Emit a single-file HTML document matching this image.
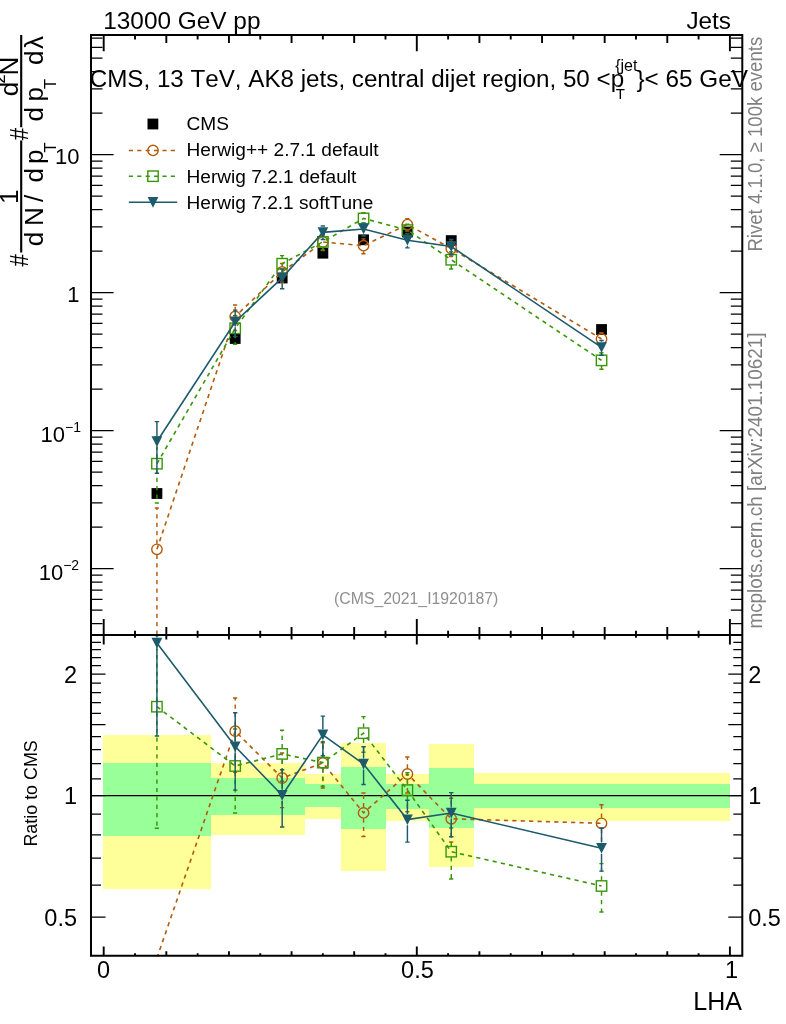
<!DOCTYPE html>
<html lang="en"><head><meta charset="utf-8"><title>CMS 13 TeV AK8 jets LHA</title>
<style>html,body{margin:0;padding:0;background:#fff}body{width:786px;height:1024px;overflow:hidden}svg{display:block}text{font-family:'Liberation Sans', Arial, Helvetica, sans-serif;font-kerning:none}</style>
</head><body>
<svg width="786" height="1024" viewBox="0 0 786 1024">
<rect x="0" y="0" width="786" height="1024" fill="#fff"/>
<g shape-rendering="crispEdges">
<rect x="103" y="734.5" width="107.9" height="154.3" fill="#ffff99"/>
<rect x="103" y="762.5" width="107.9" height="73.1" fill="#99ff99"/>
<rect x="210.9" y="762.5" width="49.1" height="72.8" fill="#ffff99"/>
<rect x="210.9" y="778" width="49.1" height="36.5" fill="#99ff99"/>
<rect x="260" y="763.3" width="44.7" height="71.5" fill="#ffff99"/>
<rect x="260" y="778" width="44.7" height="36.5" fill="#99ff99"/>
<rect x="304.7" y="774.3" width="36.2" height="44.3" fill="#ffff99"/>
<rect x="304.7" y="784.3" width="36.2" height="22.7" fill="#99ff99"/>
<rect x="340.9" y="743" width="44.9" height="127.5" fill="#ffff99"/>
<rect x="340.9" y="767" width="44.9" height="61.5" fill="#99ff99"/>
<rect x="385.8" y="773.5" width="43.5" height="47.2" fill="#ffff99"/>
<rect x="385.8" y="783.9" width="43.5" height="24.7" fill="#99ff99"/>
<rect x="429.3" y="744.2" width="44.5" height="123.2" fill="#ffff99"/>
<rect x="429.3" y="768.1" width="44.5" height="59.9" fill="#99ff99"/>
<rect x="473.8" y="773.2" width="256.2" height="47.8" fill="#ffff99"/>
<rect x="473.8" y="783.9" width="256.2" height="23.7" fill="#99ff99"/>
</g>
<line x1="91" y1="795.7" x2="742.3" y2="795.7" stroke="#000" stroke-width="1.3"/>
<defs>
<clipPath id="cm"><rect x="91" y="35" width="651.3" height="600"/></clipPath>
<clipPath id="cr"><rect x="91" y="635" width="651.3" height="320.7"/></clipPath>
</defs>
<g>
<rect x="151.53" y="488.1" width="10.8" height="10.8" fill="#000"/>
<rect x="229.8" y="333.1" width="10.8" height="10.8" fill="#000"/>
<rect x="276.77" y="272.6" width="10.8" height="10.8" fill="#000"/>
<rect x="317.47" y="247.8" width="10.8" height="10.8" fill="#000"/>
<rect x="358.17" y="234.4" width="10.8" height="10.8" fill="#000"/>
<rect x="402.01" y="226.6" width="10.8" height="10.8" fill="#000"/>
<rect x="445.84" y="235.2" width="10.8" height="10.8" fill="#000"/>
<rect x="596.13" y="324.1" width="10.8" height="10.8" fill="#000"/>
</g>
<g clip-path="url(#cm)">
<path d="M156.93 549.3 L235.2 316.45 L282.17 271.95 L322.87 242.02 L363.57 245.68 L407.41 224.58 L451.24 248.5 L601.53 338.94" fill="none" stroke="#b25a0a" stroke-width="1.6" stroke-dasharray="4.2 4.2"/>
<path d="M156.93 543.7 V508 M154.73 508 H159.13 M156.93 554.9 V700 M154.73 700 H159.13" fill="none" stroke="#b25a0a" stroke-width="1.45" stroke-dasharray="4.2 4.2"/>
<path d="M235.2 310.85 V305.06 M233 305.06 H237.4 M235.2 322.05 V330.51 M233 330.51 H237.4" fill="none" stroke="#b25a0a" stroke-width="1.45" stroke-dasharray="4.2 4.2"/>
<path d="M282.17 266.35 V263.4 M279.97 263.4 H284.37 M282.17 277.55 V282.07 M279.97 282.07 H284.37" fill="none" stroke="#b25a0a" stroke-width="1.45" stroke-dasharray="4.2 4.2"/>
<path d="M322.87 236.42 V235.11 M320.67 235.11 H325.07 M322.87 247.62 V250.57 M320.67 250.57 H325.07" fill="none" stroke="#b25a0a" stroke-width="1.45" stroke-dasharray="4.2 4.2"/>
<path d="M363.57 240.08 V238.88 M361.37 238.88 H365.77 M363.57 251.28 V253.75 M361.37 253.75 H365.77" fill="none" stroke="#b25a0a" stroke-width="1.45" stroke-dasharray="4.2 4.2"/>
<path d="M407.41 218.98 V218.73 M405.21 218.73 H409.61 M407.41 230.18 V231.06 M405.21 231.06 H409.61" fill="none" stroke="#b25a0a" stroke-width="1.45" stroke-dasharray="4.2 4.2"/>
<path d="M451.24 242.9 V241.49 M449.04 241.49 H453.44 M451.24 254.1 V256.43 M449.04 256.43 H453.44" fill="none" stroke="#b25a0a" stroke-width="1.45" stroke-dasharray="4.2 4.2"/>
<path d="M601.53 333.34 V332.61 M599.33 332.61 H603.73 M601.53 344.54 V346.01 M599.33 346.01 H603.73" fill="none" stroke="#b25a0a" stroke-width="1.45" stroke-dasharray="4.2 4.2"/>
<circle cx="156.93" cy="549.3" r="5.2" fill="none" stroke="#b25a0a" stroke-width="1.4"/>
<circle cx="235.2" cy="316.45" r="5.2" fill="none" stroke="#b25a0a" stroke-width="1.4"/>
<circle cx="282.17" cy="271.95" r="5.2" fill="none" stroke="#b25a0a" stroke-width="1.4"/>
<circle cx="322.87" cy="242.02" r="5.2" fill="none" stroke="#b25a0a" stroke-width="1.4"/>
<circle cx="363.57" cy="245.68" r="5.2" fill="none" stroke="#b25a0a" stroke-width="1.4"/>
<circle cx="407.41" cy="224.58" r="5.2" fill="none" stroke="#b25a0a" stroke-width="1.4"/>
<circle cx="451.24" cy="248.5" r="5.2" fill="none" stroke="#b25a0a" stroke-width="1.4"/>
<circle cx="601.53" cy="338.94" r="5.2" fill="none" stroke="#b25a0a" stroke-width="1.4"/>
</g>
<g clip-path="url(#cm)">
<path d="M156.93 463.7 L235.2 328.34 L282.17 263.71 L322.87 241.88 L363.57 218.43 L407.41 230.09 L451.24 259.75 L601.53 360.38" fill="none" stroke="#389608" stroke-width="1.6" stroke-dasharray="4.2 4.2"/>
<path d="M156.93 458.1 V437 M154.73 437 H159.13 M156.93 469.3 V503 M154.73 503 H159.13" fill="none" stroke="#389608" stroke-width="1.45" stroke-dasharray="4.2 4.2"/>
<path d="M235.2 322.74 V315.71 M233 315.71 H237.4 M235.2 333.94 V344.38 M233 344.38 H237.4" fill="none" stroke="#389608" stroke-width="1.45" stroke-dasharray="4.2 4.2"/>
<path d="M282.17 258.11 V255.6 M279.97 255.6 H284.37 M282.17 269.31 V273.08 M279.97 273.08 H284.37" fill="none" stroke="#389608" stroke-width="1.45" stroke-dasharray="4.2 4.2"/>
<path d="M322.87 236.28 V234.75 M320.67 234.75 H325.07 M322.87 247.48 V249.99 M320.67 249.99 H325.07" fill="none" stroke="#389608" stroke-width="1.45" stroke-dasharray="4.2 4.2"/>
<path d="M363.57 212.83 V212.75 M361.37 212.75 H365.77 M363.57 224.03 V224.96 M361.37 224.96 H365.77" fill="none" stroke="#389608" stroke-width="1.45" stroke-dasharray="4.2 4.2"/>
<path d="M407.41 224.49 V224.17 M405.21 224.17 H409.61 M407.41 235.69 V237.47 M405.21 237.47 H409.61" fill="none" stroke="#389608" stroke-width="1.45" stroke-dasharray="4.2 4.2"/>
<path d="M451.24 254.15 V251.67 M449.04 251.67 H453.44 M451.24 265.35 V269.08 M449.04 269.08 H453.44" fill="none" stroke="#389608" stroke-width="1.45" stroke-dasharray="4.2 4.2"/>
<path d="M601.53 354.78 V352.72 M599.33 352.72 H603.73 M601.53 365.98 V369.27 M599.33 369.27 H603.73" fill="none" stroke="#389608" stroke-width="1.45" stroke-dasharray="4.2 4.2"/>
<rect x="151.73" y="458.5" width="10.4" height="10.4" fill="none" stroke="#389608" stroke-width="1.4"/>
<rect x="230" y="323.14" width="10.4" height="10.4" fill="none" stroke="#389608" stroke-width="1.4"/>
<rect x="276.97" y="258.51" width="10.4" height="10.4" fill="none" stroke="#389608" stroke-width="1.4"/>
<rect x="317.67" y="236.68" width="10.4" height="10.4" fill="none" stroke="#389608" stroke-width="1.4"/>
<rect x="358.37" y="213.23" width="10.4" height="10.4" fill="none" stroke="#389608" stroke-width="1.4"/>
<rect x="402.21" y="224.89" width="10.4" height="10.4" fill="none" stroke="#389608" stroke-width="1.4"/>
<rect x="446.04" y="254.55" width="10.4" height="10.4" fill="none" stroke="#389608" stroke-width="1.4"/>
<rect x="596.33" y="355.18" width="10.4" height="10.4" fill="none" stroke="#389608" stroke-width="1.4"/>
</g>
<g clip-path="url(#cm)">
<path d="M156.93 441.5 L235.2 321.71 L282.17 277.86 L322.87 232.38 L363.57 228.96 L407.41 240.17 L451.24 246.52 L601.53 347.45" fill="none" stroke="#1c5a6c" stroke-width="1.6"/>
<path d="M156.93 435.9 V421.6 M154.73 421.6 H159.13 M156.93 447.1 V473.2 M154.73 473.2 H159.13" fill="none" stroke="#1c5a6c" stroke-width="1.45"/>
<path d="M235.2 316.11 V310.12 M233 310.12 H237.4 M235.2 327.31 V336.59 M233 336.59 H237.4" fill="none" stroke="#1c5a6c" stroke-width="1.45"/>
<path d="M282.17 272.26 V269.11 M279.97 269.11 H284.37 M282.17 283.46 V288.7 M279.97 288.7 H284.37" fill="none" stroke="#1c5a6c" stroke-width="1.45"/>
<path d="M322.87 226.78 V225.98 M320.67 225.98 H325.07 M322.87 237.98 V239.54 M320.67 239.54 H325.07" fill="none" stroke="#1c5a6c" stroke-width="1.45"/>
<path d="M363.57 223.36 V223.08 M361.37 223.08 H365.77 M363.57 234.56 V235.94 M361.37 235.94 H365.77" fill="none" stroke="#1c5a6c" stroke-width="1.45"/>
<path d="M407.41 234.57 V233.54 M405.21 233.54 H409.61 M407.41 245.77 V247.87 M405.21 247.87 H409.61" fill="none" stroke="#1c5a6c" stroke-width="1.45"/>
<path d="M451.24 240.92 V239.54 M449.04 239.54 H453.44 M451.24 252.12 V254.65 M449.04 254.65 H453.44" fill="none" stroke="#1c5a6c" stroke-width="1.45"/>
<path d="M601.53 341.85 V340.53 M599.33 340.53 H603.73 M601.53 353.05 V355.28 M599.33 355.28 H603.73" fill="none" stroke="#1c5a6c" stroke-width="1.45"/>
<path d="M151.53 436.3 L162.33 436.3 L156.93 446.9 Z" fill="#1c5a6c"/>
<path d="M229.8 316.51 L240.6 316.51 L235.2 327.11 Z" fill="#1c5a6c"/>
<path d="M276.77 272.66 L287.57 272.66 L282.17 283.26 Z" fill="#1c5a6c"/>
<path d="M317.47 227.18 L328.27 227.18 L322.87 237.78 Z" fill="#1c5a6c"/>
<path d="M358.17 223.76 L368.97 223.76 L363.57 234.36 Z" fill="#1c5a6c"/>
<path d="M402.01 234.97 L412.81 234.97 L407.41 245.57 Z" fill="#1c5a6c"/>
<path d="M445.84 241.32 L456.64 241.32 L451.24 251.92 Z" fill="#1c5a6c"/>
<path d="M596.13 342.25 L606.93 342.25 L601.53 352.85 Z" fill="#1c5a6c"/>
</g>
<g clip-path="url(#cr)">
<path d="M156.93 958 L235.2 731.2 L282.17 778 L322.87 763 L363.57 812.9 L407.41 774 L451.24 818.8 L601.53 823.3" fill="none" stroke="#b25a0a" stroke-width="1.6" stroke-dasharray="4.2 4.2"/>
<path d="M235.2 725.6 V697.9 M233 697.9 H237.4 M235.2 736.8 V772.35 M233 772.35 H237.4" fill="none" stroke="#b25a0a" stroke-width="1.45" stroke-dasharray="4.2 4.2"/>
<path d="M282.17 772.4 V753 M279.97 753 H284.37 M282.17 783.6 V807.6 M279.97 807.6 H284.37" fill="none" stroke="#b25a0a" stroke-width="1.45" stroke-dasharray="4.2 4.2"/>
<path d="M322.87 757.4 V742.8 M320.67 742.8 H325.07 M322.87 768.6 V788 M320.67 788 H325.07" fill="none" stroke="#b25a0a" stroke-width="1.45" stroke-dasharray="4.2 4.2"/>
<path d="M363.57 807.3 V793 M361.37 793 H365.77 M363.57 818.5 V836.5 M361.37 836.5 H365.77" fill="none" stroke="#b25a0a" stroke-width="1.45" stroke-dasharray="4.2 4.2"/>
<path d="M407.41 768.4 V756.9 M405.21 756.9 H409.61 M407.41 779.6 V792.95 M405.21 792.95 H409.61" fill="none" stroke="#b25a0a" stroke-width="1.45" stroke-dasharray="4.2 4.2"/>
<path d="M451.24 813.2 V798.31 M449.04 798.31 H453.44 M451.24 824.4 V842 M449.04 842 H453.44" fill="none" stroke="#b25a0a" stroke-width="1.45" stroke-dasharray="4.2 4.2"/>
<path d="M601.53 817.7 V804.8 M599.33 804.8 H603.73 M601.53 828.9 V843.99 M599.33 843.99 H603.73" fill="none" stroke="#b25a0a" stroke-width="1.45" stroke-dasharray="4.2 4.2"/>
<circle cx="235.2" cy="731.2" r="5.2" fill="none" stroke="#b25a0a" stroke-width="1.4"/>
<circle cx="282.17" cy="778" r="5.2" fill="none" stroke="#b25a0a" stroke-width="1.4"/>
<circle cx="322.87" cy="763" r="5.2" fill="none" stroke="#b25a0a" stroke-width="1.4"/>
<circle cx="363.57" cy="812.9" r="5.2" fill="none" stroke="#b25a0a" stroke-width="1.4"/>
<circle cx="407.41" cy="774" r="5.2" fill="none" stroke="#b25a0a" stroke-width="1.4"/>
<circle cx="451.24" cy="818.8" r="5.2" fill="none" stroke="#b25a0a" stroke-width="1.4"/>
<circle cx="601.53" cy="823.3" r="5.2" fill="none" stroke="#b25a0a" stroke-width="1.4"/>
</g>
<g clip-path="url(#cr)">
<path d="M156.93 706.7 L235.2 766 L282.17 753.9 L322.87 762.6 L363.57 733.2 L407.41 790.1 L451.24 851.7 L601.53 886" fill="none" stroke="#389608" stroke-width="1.6" stroke-dasharray="4.2 4.2"/>
<path d="M156.93 701.1 V635.63 M154.73 635.63 H159.13 M156.93 712.3 V828.2 M154.73 828.2 H159.13" fill="none" stroke="#389608" stroke-width="1.45" stroke-dasharray="4.2 4.2"/>
<path d="M235.2 760.4 V729.04 M233 729.04 H237.4 M235.2 771.6 V812.9 M233 812.9 H237.4" fill="none" stroke="#389608" stroke-width="1.45" stroke-dasharray="4.2 4.2"/>
<path d="M282.17 748.3 V730.2 M279.97 730.2 H284.37 M282.17 759.5 V781.31 M279.97 781.31 H284.37" fill="none" stroke="#389608" stroke-width="1.45" stroke-dasharray="4.2 4.2"/>
<path d="M322.87 757 V741.73 M320.67 741.73 H325.07 M322.87 768.2 V786.3 M320.67 786.3 H325.07" fill="none" stroke="#389608" stroke-width="1.45" stroke-dasharray="4.2 4.2"/>
<path d="M363.57 727.6 V716.6 M361.37 716.6 H365.77 M363.57 738.8 V752.3 M361.37 752.3 H365.77" fill="none" stroke="#389608" stroke-width="1.45" stroke-dasharray="4.2 4.2"/>
<path d="M407.41 784.5 V772.8 M405.21 772.8 H409.61 M407.41 795.7 V811.7 M405.21 811.7 H409.61" fill="none" stroke="#389608" stroke-width="1.45" stroke-dasharray="4.2 4.2"/>
<path d="M451.24 846.1 V828.08 M449.04 828.08 H453.44 M451.24 857.3 V879 M449.04 879 H453.44" fill="none" stroke="#389608" stroke-width="1.45" stroke-dasharray="4.2 4.2"/>
<path d="M601.53 880.4 V863.6 M599.33 863.6 H603.73 M601.53 891.6 V912 M599.33 912 H603.73" fill="none" stroke="#389608" stroke-width="1.45" stroke-dasharray="4.2 4.2"/>
<rect x="151.73" y="701.5" width="10.4" height="10.4" fill="none" stroke="#389608" stroke-width="1.4"/>
<rect x="230" y="760.8" width="10.4" height="10.4" fill="none" stroke="#389608" stroke-width="1.4"/>
<rect x="276.97" y="748.7" width="10.4" height="10.4" fill="none" stroke="#389608" stroke-width="1.4"/>
<rect x="317.67" y="757.4" width="10.4" height="10.4" fill="none" stroke="#389608" stroke-width="1.4"/>
<rect x="358.37" y="728" width="10.4" height="10.4" fill="none" stroke="#389608" stroke-width="1.4"/>
<rect x="402.21" y="784.9" width="10.4" height="10.4" fill="none" stroke="#389608" stroke-width="1.4"/>
<rect x="446.04" y="846.5" width="10.4" height="10.4" fill="none" stroke="#389608" stroke-width="1.4"/>
<rect x="596.33" y="880.8" width="10.4" height="10.4" fill="none" stroke="#389608" stroke-width="1.4"/>
</g>
<g clip-path="url(#cr)">
<path d="M156.93 643 L235.2 746.6 L282.17 795.3 L322.87 734.8 L363.57 764 L407.41 819.6 L451.24 813 L601.53 848.2" fill="none" stroke="#1c5a6c" stroke-width="1.6"/>
<path d="M156.93 637.4 V582.56 M154.73 582.56 H159.13 M156.93 648.6 V736 M154.73 736 H159.13" fill="none" stroke="#1c5a6c" stroke-width="1.45"/>
<path d="M235.2 741 V712.7 M233 712.7 H237.4 M235.2 752.2 V790.1 M233 790.1 H237.4" fill="none" stroke="#1c5a6c" stroke-width="1.45"/>
<path d="M282.17 789.7 V769.7 M279.97 769.7 H284.37 M282.17 800.9 V827 M279.97 827 H284.37" fill="none" stroke="#1c5a6c" stroke-width="1.45"/>
<path d="M322.87 729.2 V716.1 M320.67 716.1 H325.07 M322.87 740.4 V755.74 M320.67 755.74 H325.07" fill="none" stroke="#1c5a6c" stroke-width="1.45"/>
<path d="M363.57 758.4 V746.8 M361.37 746.8 H365.77 M363.57 769.6 V784.4 M361.37 784.4 H365.77" fill="none" stroke="#1c5a6c" stroke-width="1.45"/>
<path d="M407.41 814 V800.2 M405.21 800.2 H409.61 M407.41 825.2 V842.1 M405.21 842.1 H409.61" fill="none" stroke="#1c5a6c" stroke-width="1.45"/>
<path d="M451.24 807.4 V792.6 M449.04 792.6 H453.44 M451.24 818.6 V836.8 M449.04 836.8 H453.44" fill="none" stroke="#1c5a6c" stroke-width="1.45"/>
<path d="M601.53 842.6 V827.95 M599.33 827.95 H603.73 M601.53 853.8 V871.1 M599.33 871.1 H603.73" fill="none" stroke="#1c5a6c" stroke-width="1.45"/>
<path d="M151.53 637.8 L162.33 637.8 L156.93 648.4 Z" fill="#1c5a6c"/>
<path d="M229.8 741.4 L240.6 741.4 L235.2 752 Z" fill="#1c5a6c"/>
<path d="M276.77 790.1 L287.57 790.1 L282.17 800.7 Z" fill="#1c5a6c"/>
<path d="M317.47 729.6 L328.27 729.6 L322.87 740.2 Z" fill="#1c5a6c"/>
<path d="M358.17 758.8 L368.97 758.8 L363.57 769.4 Z" fill="#1c5a6c"/>
<path d="M402.01 814.4 L412.81 814.4 L407.41 825 Z" fill="#1c5a6c"/>
<path d="M445.84 807.8 L456.64 807.8 L451.24 818.4 Z" fill="#1c5a6c"/>
<path d="M596.13 843 L606.93 843 L601.53 853.6 Z" fill="#1c5a6c"/>
</g>
<path d="M91 623.62 h11.5 M742.3 623.62 h-11.5 M91 610.24 h11.5 M742.3 610.24 h-11.5 M91 599.32 h11.5 M742.3 599.32 h-11.5 M91 590.08 h11.5 M742.3 590.08 h-11.5 M91 582.07 h11.5 M742.3 582.07 h-11.5 M91 575.01 h11.5 M742.3 575.01 h-11.5 M91 568.7 h22.6 M742.3 568.7 h-22.6 M91 527.16 h11.5 M742.3 527.16 h-11.5 M91 502.86 h11.5 M742.3 502.86 h-11.5 M91 485.62 h11.5 M742.3 485.62 h-11.5 M91 472.24 h11.5 M742.3 472.24 h-11.5 M91 461.32 h11.5 M742.3 461.32 h-11.5 M91 452.08 h11.5 M742.3 452.08 h-11.5 M91 444.07 h11.5 M742.3 444.07 h-11.5 M91 437.01 h11.5 M742.3 437.01 h-11.5 M91 430.7 h22.6 M742.3 430.7 h-22.6 M91 389.16 h11.5 M742.3 389.16 h-11.5 M91 364.86 h11.5 M742.3 364.86 h-11.5 M91 347.62 h11.5 M742.3 347.62 h-11.5 M91 334.24 h11.5 M742.3 334.24 h-11.5 M91 323.32 h11.5 M742.3 323.32 h-11.5 M91 314.08 h11.5 M742.3 314.08 h-11.5 M91 306.07 h11.5 M742.3 306.07 h-11.5 M91 299.01 h11.5 M742.3 299.01 h-11.5 M91 292.7 h22.6 M742.3 292.7 h-22.6 M91 251.16 h11.5 M742.3 251.16 h-11.5 M91 226.86 h11.5 M742.3 226.86 h-11.5 M91 209.62 h11.5 M742.3 209.62 h-11.5 M91 196.24 h11.5 M742.3 196.24 h-11.5 M91 185.32 h11.5 M742.3 185.32 h-11.5 M91 176.08 h11.5 M742.3 176.08 h-11.5 M91 168.07 h11.5 M742.3 168.07 h-11.5 M91 161.01 h11.5 M742.3 161.01 h-11.5 M91 154.7 h22.6 M742.3 154.7 h-22.6 M91 113.16 h11.5 M742.3 113.16 h-11.5 M91 88.86 h11.5 M742.3 88.86 h-11.5 M91 71.62 h11.5 M742.3 71.62 h-11.5 M91 58.24 h11.5 M742.3 58.24 h-11.5 M91 47.32 h11.5 M742.3 47.32 h-11.5 M91 38.08 h11.5 M742.3 38.08 h-11.5" stroke="#000" stroke-width="1.25" fill="none"/>
<path d="M91 917.2 h14.5 M742.3 917.2 h-14 M91 885.24 h10 M742.3 885.24 h-9 M91 858.22 h10 M742.3 858.22 h-9 M91 834.81 h10 M742.3 834.81 h-9 M91 814.17 h10 M742.3 814.17 h-9 M91 795.7 h14.5 M742.3 795.7 h-14 M91 778.99 h10 M742.3 778.99 h-9 M91 763.74 h10 M742.3 763.74 h-9 M91 749.71 h10 M742.3 749.71 h-9 M91 736.72 h10 M742.3 736.72 h-9 M91 724.63 h14.5 M742.3 724.63 h-14 M91 713.32 h10 M742.3 713.32 h-9 M91 702.69 h10 M742.3 702.69 h-9 M91 692.67 h10 M742.3 692.67 h-9 M91 683.2 h10 M742.3 683.2 h-9 M91 674.2 h14.5 M742.3 674.2 h-14 M91 665.65 h10 M742.3 665.65 h-9 M91 657.5 h10 M742.3 657.5 h-9 M91 649.71 h10 M742.3 649.71 h-9 M91 642.25 h10 M742.3 642.25 h-9" stroke="#000" stroke-width="1.25" fill="none"/>
<path d="M103.7 35 v16.2 M103.7 619 V644.5 M103.7 955.7 v-9.3 M135.01 35 v4.5 M135.01 630.8 V637.8 M135.01 955.7 v-2.5 M166.32 35 v8 M166.32 627 V639.6 M166.32 955.7 v-4.5 M197.63 35 v4.5 M197.63 630.8 V637.8 M197.63 955.7 v-2.5 M228.94 35 v8 M228.94 627 V639.6 M228.94 955.7 v-4.5 M260.25 35 v4.5 M260.25 630.8 V637.8 M260.25 955.7 v-2.5 M291.56 35 v8 M291.56 627 V639.6 M291.56 955.7 v-4.5 M322.87 35 v4.5 M322.87 630.8 V637.8 M322.87 955.7 v-2.5 M354.18 35 v8 M354.18 627 V639.6 M354.18 955.7 v-4.5 M385.49 35 v4.5 M385.49 630.8 V637.8 M385.49 955.7 v-2.5 M416.8 35 v16.2 M416.8 619 V644.5 M416.8 955.7 v-9.3 M448.11 35 v4.5 M448.11 630.8 V637.8 M448.11 955.7 v-2.5 M479.42 35 v8 M479.42 627 V639.6 M479.42 955.7 v-4.5 M510.73 35 v4.5 M510.73 630.8 V637.8 M510.73 955.7 v-2.5 M542.04 35 v8 M542.04 627 V639.6 M542.04 955.7 v-4.5 M573.35 35 v4.5 M573.35 630.8 V637.8 M573.35 955.7 v-2.5 M604.66 35 v8 M604.66 627 V639.6 M604.66 955.7 v-4.5 M635.97 35 v4.5 M635.97 630.8 V637.8 M635.97 955.7 v-2.5 M667.28 35 v8 M667.28 627 V639.6 M667.28 955.7 v-4.5 M698.59 35 v4.5 M698.59 630.8 V637.8 M698.59 955.7 v-2.5 M729.9 35 v16.2 M729.9 619 V644.5 M729.9 955.7 v-9.3" stroke="#000" stroke-width="1.9" fill="none"/>
<path d="M91 35 H742.3 V955.7 H91 Z M91 635 H742.3" fill="none" stroke="#000" stroke-width="2" stroke-linejoin="miter"/>
<g fill="#000">
<text x="103.2" y="28.5" font-size="24.4">13000 GeV pp</text>
<text x="731" y="28.8" font-size="24.3" text-anchor="end">Jets</text>
<text x="89.7" y="86.8" font-size="24.2">CMS, 13 TeV, AK8 jets, central dijet region, 50 &lt;p</text>
<text x="615.2" y="71.3" font-size="16">{jet</text>
<text x="615.8" y="99.3" font-size="15">T</text>
<text x="636.5" y="86.8" font-size="24.3">}&lt; 65 GeV</text>
<rect x="147.5" y="118.6" width="10.8" height="10.8" fill="#000"/>
<line x1="128.8" y1="150.4" x2="176" y2="150.4" stroke="#b25a0a" stroke-width="1.5" stroke-dasharray="4.2 4.2"/>
<circle cx="153" cy="150.4" r="5.2" fill="none" stroke="#b25a0a" stroke-width="1.4"/>
<line x1="128.8" y1="176.2" x2="176" y2="176.2" stroke="#389608" stroke-width="1.5" stroke-dasharray="4.2 4.2"/>
<rect x="147.8" y="171" width="10.4" height="10.4" fill="none" stroke="#389608" stroke-width="1.4"/>
<line x1="128.8" y1="202.3" x2="177.2" y2="202.3" stroke="#1c5a6c" stroke-width="1.5"/>
<path d="M147.6 197.1 L158.4 197.1 L153 207.7 Z" fill="#1c5a6c"/>
<text x="186.5" y="130.2" font-size="19.1">CMS</text>
<text x="186.5" y="156.3" font-size="19.1">Herwig++ 2.7.1 default</text>
<text x="186.5" y="182.9" font-size="19.1">Herwig 7.2.1 default</text>
<text x="186.5" y="209" font-size="19.1">Herwig 7.2.1 softTune</text>
<text x="79.5" y="163.6" font-size="22" text-anchor="end">10</text>
<text x="79.5" y="301.6" font-size="22" text-anchor="end">1</text>
<text x="65" y="441.6" font-size="22" text-anchor="end">10</text>
<text x="65" y="431.8" font-size="14">−1</text>
<text x="63.2" y="579.6" font-size="22" text-anchor="end">10</text>
<text x="63.2" y="569.8" font-size="14">−2</text>
<text x="77" y="682.5" font-size="23.5" text-anchor="end">2</text>
<text x="748.2" y="682.5" font-size="23.5">2</text>
<text x="77" y="804" font-size="23.5" text-anchor="end">1</text>
<text x="748.2" y="804" font-size="23.5">1</text>
<text x="77" y="925.5" font-size="23.5" text-anchor="end">0.5</text>
<text x="748.2" y="925.5" font-size="23.5">0.5</text>
<text x="103.5" y="978.3" font-size="23.5" text-anchor="middle">0</text>
<text x="417.4" y="978.3" font-size="23.5" text-anchor="middle">0.5</text>
<text x="731.5" y="978.3" font-size="23.5" text-anchor="middle">1</text>
<text x="742" y="1009.6" font-size="25" text-anchor="end">LHA</text>
<text transform="translate(36.6 793.4) rotate(-90)" font-size="17.9" text-anchor="middle">Ratio to CMS</text>
</g>
<g fill="#808080">
<text x="416.2" y="604.2" font-size="15.8" text-anchor="middle" fill="#909090">(CMS_2021_I1920187)</text>
<text transform="translate(761.7 36.8) rotate(-90) scale(1 1.08)" font-size="18.6" text-anchor="end">Rivet 4.1.0, ≥ 100k events</text>
<text transform="translate(761.7 628.6) rotate(-90) scale(1 1.08)" font-size="18.9">mcplots.cern.ch [arXiv:2401.10621]</text>
</g>
<g transform="translate(28.1 266.3) rotate(-90)" font-size="26" fill="#000">
<text transform="translate(-0.1 0) scale(0.86 1)" font-size="26">#</text>
<text x="62.2" y="-10.5" font-size="26">1</text>
<text x="20.1" y="15.3" font-size="26">d</text>
<text x="40.3" y="15.3" font-size="26">N</text>
<text x="64.3" y="15.3" font-size="26">/</text>
<text x="83.7" y="15.3" font-size="26">d</text>
<text x="102.2" y="15.3" font-size="26">p</text>
<text x="113.8" y="28.3" font-size="16.5">T</text>
<text transform="translate(126 0) scale(0.86 1)" font-size="26">#</text>
<text x="170.1" y="-10.5" font-size="26">d</text>
<text x="182.7" y="-23.4" font-size="16.5">2</text>
<text x="190.8" y="-10.5" font-size="26">N</text>
<text x="144.9" y="15.3" font-size="26">d</text>
<text x="164.8" y="15.3" font-size="26">p</text>
<text x="177.3" y="28.3" font-size="16.5">T</text>
<text x="201.2" y="15.3" font-size="26">d</text>
<text x="217.3" y="15.3" font-size="26">λ</text>
<path d="M13.7 -6.9 H125.8 M139 -6.9 H231.4" stroke="#000" stroke-width="2.1" fill="none"/>
</g>
</svg>
</body></html>
